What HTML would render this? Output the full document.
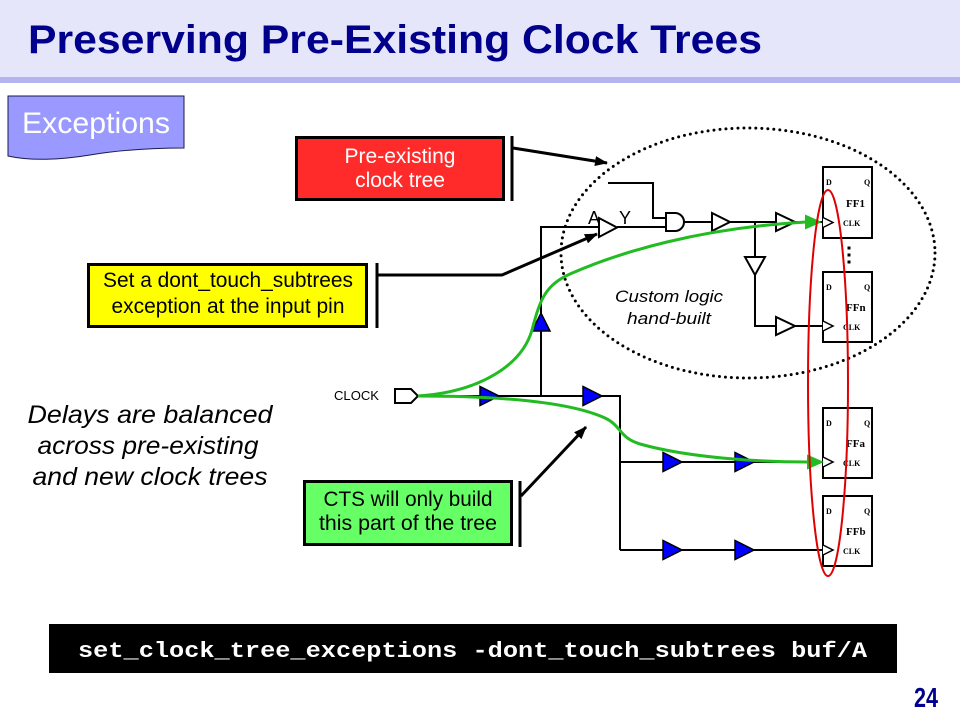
<!DOCTYPE html>
<html>
<head>
<meta charset="utf-8">
<style>
  html, body { margin: 0; padding: 0; background: #ffffff; }
  svg { display: block; }
  .sans { font-family: "Liberation Sans", Arial, sans-serif; }
  .serif { font-family: "Liberation Serif", "Times New Roman", serif; }
  .mono { font-family: "Liberation Mono", "Courier New", monospace; }
</style>
</head>
<body>
<svg width="960" height="720" viewBox="0 0 960 720" xmlns="http://www.w3.org/2000/svg">
  <defs>
    <marker id="ah" markerWidth="13" markerHeight="10" refX="12" refY="5" orient="auto" markerUnits="userSpaceOnUse">
      <path d="M0,0 L13,5 L0,10 Z" fill="#000"/>
    </marker>
  </defs>

  <rect x="0" y="0" width="960" height="720" fill="#ffffff"/>

  <!-- Header -->
  <rect x="0" y="0" width="960" height="77" fill="#e6e6fa"/>
  <rect x="0" y="77" width="960" height="6" fill="#b4b4f0"/>
  <text class="sans" x="28" y="53" font-size="40" font-weight="bold" fill="#00008c" textLength="734" lengthAdjust="spacingAndGlyphs">Preserving Pre-Existing Clock Trees</text>

  <!-- Exceptions tag -->
  <path d="M8,96 H184 V148 C150,148 120,150 90,155 C60,160 30,161 8,156 Z" fill="#9999ff" stroke="#1a1a4a" stroke-width="1"/>
  <text class="sans" x="22" y="133" font-size="30" fill="#ffffff" textLength="148" lengthAdjust="spacingAndGlyphs">Exceptions</text>

  <!-- Dotted ellipse -->
  <ellipse cx="748" cy="253" rx="187" ry="125" fill="none" stroke="#000" stroke-width="3" stroke-dasharray="0 6" stroke-linecap="round"/>

  <!-- Wires -->
  <g fill="none" stroke="#000" stroke-width="2">
    <path d="M418,396 H620 V550"/>
    <path d="M620,462 H823"/>
    <path d="M620,550 H823"/>
    <path d="M541,396 V227 H599"/>
    <path d="M617,227 H666"/>
    <path d="M608,183 H653 V218 H666"/>
    <path d="M684,222 H823"/>
    <path d="M755,222 V257"/>
    <path d="M755,275 V326 H823"/>
  </g>

  <!-- CLOCK port -->
  <path d="M395,389 H411 L418,396 L411,403 H395 Z" fill="#fff" stroke="#000" stroke-width="2"/>
  <text class="sans" x="334" y="400" font-size="13" fill="#000" textLength="45" lengthAdjust="spacingAndGlyphs">CLOCK</text>

  <!-- Blue buffers -->
  <g fill="#0000ff" stroke="#000" stroke-width="1.5">
    <polygon points="480,386.5 480,405.5 499,396"/>
    <polygon points="583,386.5 583,405.5 602,396"/>
    <polygon points="663,452.5 663,471.5 682,462"/>
    <polygon points="735,452.5 735,471.5 754,462"/>
    <polygon points="663,540.5 663,559.5 682,550"/>
    <polygon points="735,540.5 735,559.5 754,550"/>
    <polygon points="532,331 550,331 541,313"/>
  </g>

  <!-- White (pre-existing) buffers and gate -->
  <g fill="#fff" stroke="#000" stroke-width="2">
    <polygon points="599,218 599,237 617,227.5"/>
    <polygon points="712,213 712,231 730,222"/>
    <polygon points="776,213 776,231 795,222"/>
    <polygon points="776,317 776,335 795,326"/>
    <polygon points="745,257 765,257 755,275"/>
    <path d="M666,213 H675 A9,9 0 0 1 675,231 H666 Z"/>
  </g>
  <text class="sans" x="588" y="224" font-size="18" fill="#000">A</text>
  <text class="sans" x="619" y="224" font-size="18" fill="#000">Y</text>

  <!-- Custom logic label -->
  <text class="sans" x="669" y="302" font-size="17" font-style="italic" text-anchor="middle" fill="#000" textLength="108" lengthAdjust="spacingAndGlyphs">Custom logic</text>
  <text class="sans" x="669" y="324" font-size="17" font-style="italic" text-anchor="middle" fill="#000" textLength="84" lengthAdjust="spacingAndGlyphs">hand-built</text>

  <!-- Flip-flops -->
  <g>
    <rect x="823" y="167" width="49" height="71" fill="#fff" stroke="#000" stroke-width="2"/>
    <polyline points="823,217.5 833,222.5 823,227.5" fill="#fff" stroke="#000" stroke-width="1.5"/>
    <text class="serif" x="826" y="185" font-size="8" font-weight="bold">D</text>
    <text class="serif" x="864" y="185" font-size="8" font-weight="bold">Q</text>
    <text class="serif" x="846" y="207" font-size="11" font-weight="bold">FF1</text>
    <text class="serif" x="843" y="226" font-size="8" font-weight="bold">CLK</text>

    <rect x="823" y="272" width="49" height="70" fill="#fff" stroke="#000" stroke-width="2"/>
    <polyline points="823,321 833,326 823,331" fill="#fff" stroke="#000" stroke-width="1.5"/>
    <text class="serif" x="826" y="290" font-size="8" font-weight="bold">D</text>
    <text class="serif" x="864" y="290" font-size="8" font-weight="bold">Q</text>
    <text class="serif" x="846" y="311" font-size="11" font-weight="bold">FFn</text>
    <text class="serif" x="843" y="330" font-size="8" font-weight="bold">CLK</text>

    <rect x="823" y="408" width="49" height="70" fill="#fff" stroke="#000" stroke-width="2"/>
    <polyline points="823,457 833,462 823,467" fill="#fff" stroke="#000" stroke-width="1.5"/>
    <text class="serif" x="826" y="426" font-size="8" font-weight="bold">D</text>
    <text class="serif" x="864" y="426" font-size="8" font-weight="bold">Q</text>
    <text class="serif" x="846" y="447" font-size="11" font-weight="bold">FFa</text>
    <text class="serif" x="843" y="466" font-size="8" font-weight="bold">CLK</text>

    <rect x="823" y="496" width="49" height="70" fill="#fff" stroke="#000" stroke-width="2"/>
    <polyline points="823,545 833,550 823,555" fill="#fff" stroke="#000" stroke-width="1.5"/>
    <text class="serif" x="826" y="514" font-size="8" font-weight="bold">D</text>
    <text class="serif" x="864" y="514" font-size="8" font-weight="bold">Q</text>
    <text class="serif" x="846" y="535" font-size="11" font-weight="bold">FFb</text>
    <text class="serif" x="843" y="554" font-size="8" font-weight="bold">CLK</text>

    <rect x="847.5" y="246.5" width="3" height="3" fill="#000"/>
    <rect x="847.5" y="253.5" width="3" height="3" fill="#000"/>
    <rect x="847.5" y="260.5" width="3" height="3" fill="#000"/>
  </g>

  <!-- Green paths -->
  <g fill="none" stroke="#22bb22" stroke-width="3">
    <path d="M418,396 C480,392 522,365 532,330 C540,300 545,285 570,274 C620,252 700,228 806,222"/>
    <path d="M418,396 C500,396 570,402 605,418 C622,426 618,437 640,444 C690,458 760,462 808,462"/>
  </g>
  <polygon points="805,214.5 822,222 805,229.5" fill="#22bb22"/>
  <polygon points="807,454.5 824,462 807,469.5" fill="#22bb22"/>

  <!-- Red ellipse -->
  <ellipse cx="828" cy="383" rx="20" ry="193" fill="none" stroke="#e00000" stroke-width="2"/>

  <!-- Red callout -->
  <rect x="296.5" y="137.5" width="207" height="62" fill="#ff2a2a" stroke="#000" stroke-width="3"/>
  <text class="sans" x="400" y="163" font-size="21" fill="#fff" text-anchor="middle">Pre-existing</text>
  <text class="sans" x="400" y="187" font-size="21" fill="#fff" text-anchor="middle">clock tree</text>
  <line x1="512" y1="136" x2="512" y2="201" stroke="#000" stroke-width="3"/>
  <line x1="513" y1="148" x2="607" y2="163" stroke="#000" stroke-width="3" marker-end="url(#ah)"/>

  <!-- Yellow callout -->
  <rect x="88.5" y="264.5" width="278" height="62" fill="#ffff00" stroke="#000" stroke-width="3"/>
  <text class="sans" x="228" y="287" font-size="21" fill="#000" text-anchor="middle" textLength="250" lengthAdjust="spacingAndGlyphs">Set a dont_touch_subtrees</text>
  <text class="sans" x="228" y="313" font-size="21" fill="#000" text-anchor="middle" textLength="233" lengthAdjust="spacingAndGlyphs">exception at the input pin</text>
  <line x1="377" y1="263" x2="377" y2="328" stroke="#000" stroke-width="3"/>
  <path d="M377,275 H502 L597,234" fill="none" stroke="#000" stroke-width="3" marker-end="url(#ah)"/>

  <!-- Green callout -->
  <rect x="304.5" y="481.5" width="207" height="63" fill="#66ff66" stroke="#000" stroke-width="3"/>
  <text class="sans" x="408" y="506" font-size="21" fill="#000" text-anchor="middle" textLength="169" lengthAdjust="spacingAndGlyphs">CTS will only build</text>
  <text class="sans" x="408" y="530" font-size="21" fill="#000" text-anchor="middle" textLength="178" lengthAdjust="spacingAndGlyphs">this part of the tree</text>
  <line x1="520" y1="481" x2="520" y2="547" stroke="#000" stroke-width="3"/>
  <line x1="521" y1="496" x2="586" y2="427" stroke="#000" stroke-width="3" marker-end="url(#ah)"/>

  <!-- Left italic note -->
  <text class="sans" x="150" y="423" font-size="25" font-style="italic" fill="#000" text-anchor="middle" textLength="245" lengthAdjust="spacingAndGlyphs">Delays are balanced</text>
  <text class="sans" x="148" y="454" font-size="25" font-style="italic" fill="#000" text-anchor="middle" textLength="221" lengthAdjust="spacingAndGlyphs">across pre-existing</text>
  <text class="sans" x="150" y="485" font-size="25" font-style="italic" fill="#000" text-anchor="middle" textLength="235" lengthAdjust="spacingAndGlyphs">and new clock trees</text>

  <!-- Command bar -->
  <rect x="49" y="624" width="848" height="49" fill="#000"/>
  <text class="mono" x="78" y="657" font-size="22" font-weight="bold" fill="#fff" textLength="789" lengthAdjust="spacingAndGlyphs">set_clock_tree_exceptions -dont_touch_subtrees buf/A</text>

  <!-- Page number -->
  <text class="sans" x="914" y="707" font-size="28" font-weight="bold" fill="#00008c" textLength="24" lengthAdjust="spacingAndGlyphs">24</text>
</svg>
</body>
</html>
